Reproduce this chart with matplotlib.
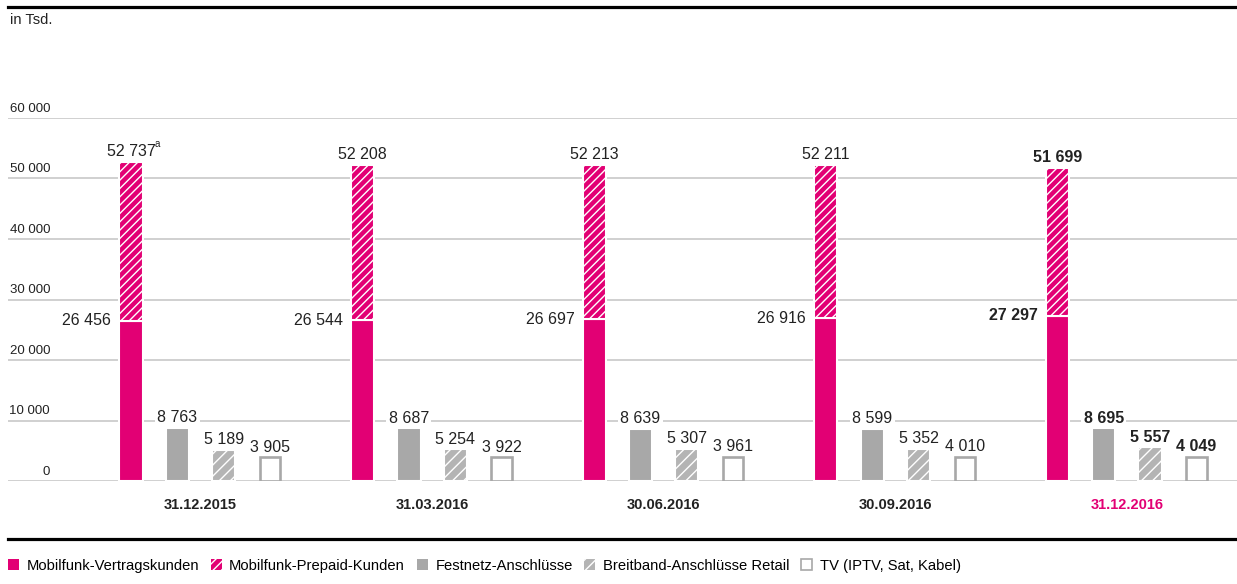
import matplotlib
matplotlib.use('Agg')
import matplotlib.pyplot as plt
from matplotlib.patches import Patch
from matplotlib.lines import Line2D
import numpy as np

plt.rcParams['font.family'] = ['Liberation Sans', 'DejaVu Sans']
plt.rcParams['hatch.linewidth'] = 1.0

dates = ['31.12.2015', '31.03.2016', '30.06.2016', '30.09.2016', '31.12.2016']
contract = [26456, 26544, 26697, 26916, 27297]
mobile_total = [52737, 52208, 52213, 52211, 51699]
fixed = [8763, 8687, 8639, 8599, 8695]
broadband = [5189, 5254, 5307, 5352, 5557]
tv = [3905, 3922, 3961, 4010, 4049]
yticks = [0, 10000, 20000, 30000, 40000, 50000, 60000]
legend_labels = ['Mobilfunk-Vertragskunden', 'Mobilfunk-Prepaid-Kunden', 'Festnetz-Anschlüsse',
                 'Breitband-Anschlüsse Retail', 'TV (IPTV, Sat, Kabel)']

MAGENTA = '#e20074'
GRAY = '#a8a8a8'
GRID = '#c8c8c8'
TEXT = '#222222'

def fmt(v):
    return f'{v:,}'.replace(',', ' ')

W, H = 1237, 584
fig = plt.figure(figsize=(W / 100, H / 100), dpi=100)
ax = fig.add_axes([8 / W, (H - 481) / H, 1 - 8 / W, (481 - 118) / H])
ax.set_xlim((8 - 200.5) / 231.6, (W - 200.5) / 231.6)
ax.set_ylim(0, 60000)
ax.axis('off')

for t in yticks:
    ax.axhline(t, color=GRID, lw=1.2, zorder=0)
    ax.annotate(fmt(t), xy=(42 / 1229, t), xycoords=('axes fraction', 'data'),
                xytext=(0, 4.5), textcoords='offset points', ha='right', va='baseline',
                fontsize=9.5, color=TEXT)

x = np.arange(len(dates))
step = 0.2
w = 0.1
prepaid = np.array(mobile_total) - np.array(contract)

ax.bar(x - 1.5 * step, contract, w, color=MAGENTA, edgecolor='white', lw=1.5, zorder=4)
ax.bar(x - 1.5 * step, prepaid, w, bottom=contract, color=MAGENTA, edgecolor='white',
       lw=1.5, hatch='////', zorder=4)
ax.bar(x - 0.5 * step, fixed, w, color=GRAY, edgecolor='white', lw=1.5, zorder=4)
ax.bar(x + 0.5 * step, broadband, w, color='#b4b4b4', edgecolor='white', lw=1.5,
       hatch='///', zorder=4)
ax.bar(x + 1.5 * step, tv, w * 0.88, color='white', edgecolor=GRAY, lw=1.9, zorder=4)

box = dict(boxstyle='square,pad=0.15', fc='white', ec='none')
for i in range(len(dates)):
    last = i == len(dates) - 1
    fw = 'bold' if last else 'normal'
    kw = dict(textcoords='offset points', fontsize=11.5, color=TEXT, fontweight=fw,
              bbox=box, zorder=3)
    ax.annotate(fmt(contract[i]), xy=(x[i] - 1.5 * step - w / 2, contract[i]),
                xytext=(-6, 0), ha='right', va='center', **kw)
    ax.annotate(fmt(mobile_total[i]), xy=(x[i] - 1.5 * step, mobile_total[i]),
                xytext=(0, 4.5), ha='center', va='baseline', **kw)
    ax.annotate(fmt(fixed[i]), xy=(x[i] - 0.5 * step, fixed[i]),
                xytext=(0, 4), ha='center', va='baseline', **kw)
    ax.annotate(fmt(broadband[i]), xy=(x[i] + 0.5 * step, broadband[i]),
                xytext=(0, 4), ha='center', va='baseline', **kw)
    ax.annotate(fmt(tv[i]), xy=(x[i] + 1.5 * step, tv[i]),
                xytext=(0, 4), ha='center', va='baseline', **kw)
    ax.annotate(dates[i], xy=(x[i], 0), xytext=(0, -17.5), textcoords='offset points',
                ha='center', va='center', fontsize=10.5, fontweight='bold',
                color=MAGENTA if last else TEXT)

# footnote marker
ax.annotate('a', xy=(x[0] - 1.5 * step, mobile_total[0]), xytext=(19, 11),
            textcoords='offset points', ha='center', va='baseline', fontsize=7, color=TEXT)

fig.text(10 / W, 1 - 20 / H, 'in Tsd.', ha='left', va='center', fontsize=10.5, color=TEXT)

fig.add_artist(Line2D([8 / W, 1], [1 - 7 / H] * 2, color='black', lw=2.3))
fig.add_artist(Line2D([8 / W, 1], [1 - 539 / H] * 2, color='black', lw=2.3))

handles = [Patch(facecolor=MAGENTA, edgecolor='white', lw=0),
           Patch(facecolor=MAGENTA, edgecolor='white', hatch='////', lw=0),
           Patch(facecolor=GRAY, edgecolor='white', lw=0),
           Patch(facecolor='#b4b4b4', edgecolor='white', hatch='///', lw=0),
           Patch(facecolor='white', edgecolor=GRAY, lw=1.2)]
fig.legend(handles, legend_labels, loc='center left', bbox_to_anchor=(8 / W, 1 - 566 / H),
           ncol=5, frameon=False, borderaxespad=0, borderpad=0, handlelength=0.75,
           handleheight=0.75, handletextpad=0.5, columnspacing=0.8,
           prop={'size': 10.6})

fig.savefig('out.png', dpi=100)
